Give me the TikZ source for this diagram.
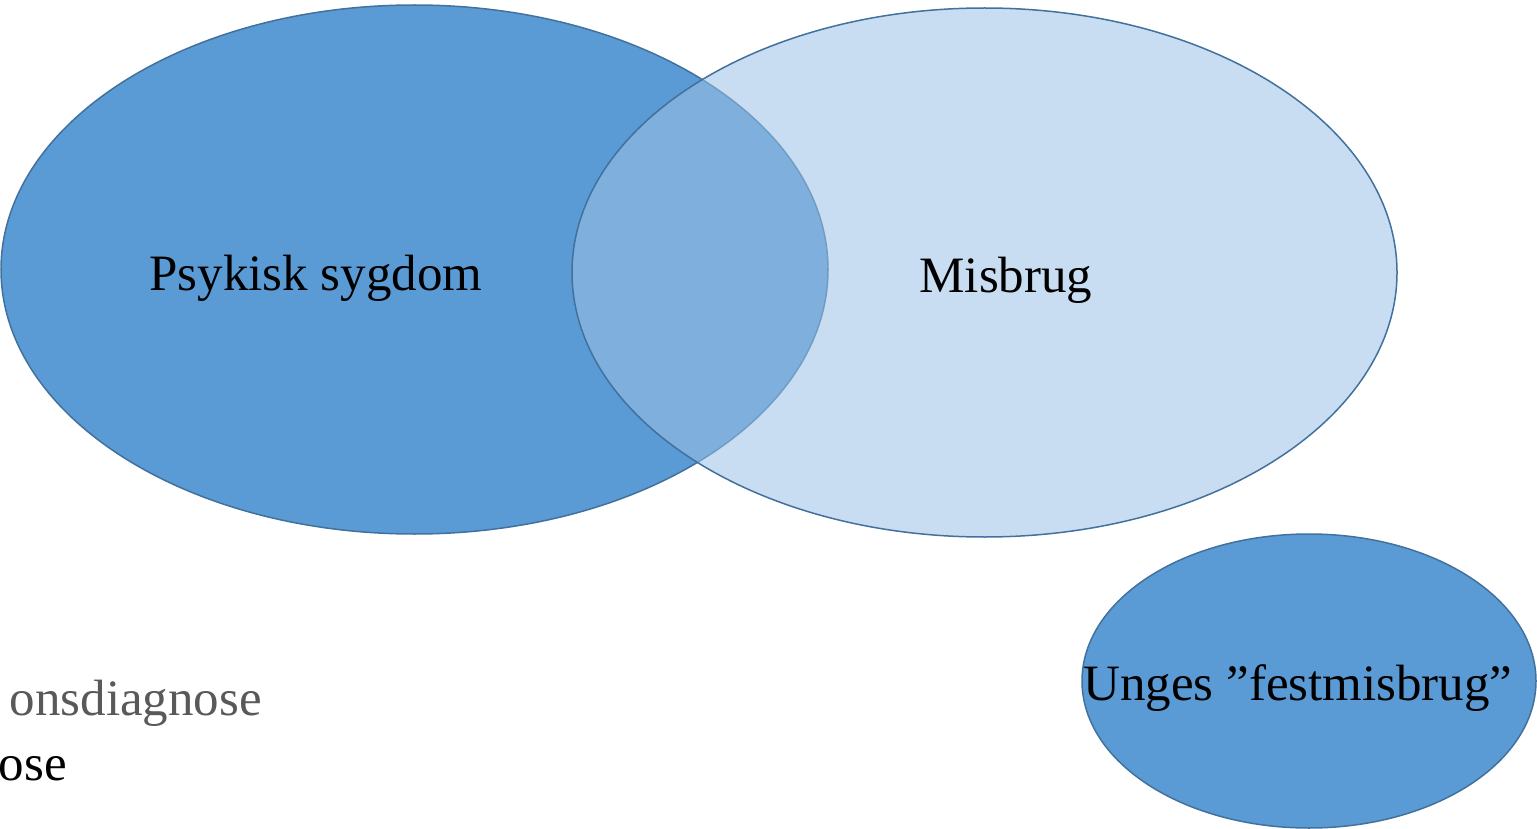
\documentclass[tikz,border=0pt]{standalone}
\usepackage{fontspec}
\setmainfont{Liberation Serif}
\usetikzlibrary{shapes.geometric}
\definecolor{edgeblue}{RGB}{65,113,156}
\definecolor{darkfill}{RGB}{91,155,213}
\definecolor{lightfill}{RGB}{155,193,229}
\definecolor{graytext}{RGB}{89,89,89}
\tikzset{
  venn/.style={ellipse, draw=edgeblue, line width=1.5pt, inner sep=0pt},
  lbl/.style={font=\fontsize{51}{55}\selectfont, inner sep=0pt, text=black},
}
\begin{document}
\begin{tikzpicture}[x=1pt,y=-1pt]
\useasboundingbox (0,0) rectangle (1537,829);
\node[venn, fill=darkfill, minimum width=827pt, minimum height=529pt] (psy) at (414.5,269.5) {};
\node[venn, fill=lightfill, fill opacity=0.55, minimum width=825pt, minimum height=529pt] (mis) at (984.5,272.5) {};
\node[venn, fill=darkfill, minimum width=454pt, minimum height=294pt] (fest) at (1309,681) {};
\node[lbl, anchor=base] (tpsy) at (316,290) {Psykisk sygdom};
\node[lbl, anchor=base] (tmis) at (1006,292) {Misbrug};
\node[lbl, anchor=base] (tfest) at (1298,700) {Unges ”festmisbrug”};
\node[lbl, anchor=base east, text=graytext] (t1) at (262,715) {onsdiagnose};
\node[lbl, anchor=base east] (t2) at (67,780) {ose};
\end{tikzpicture}
\end{document}
